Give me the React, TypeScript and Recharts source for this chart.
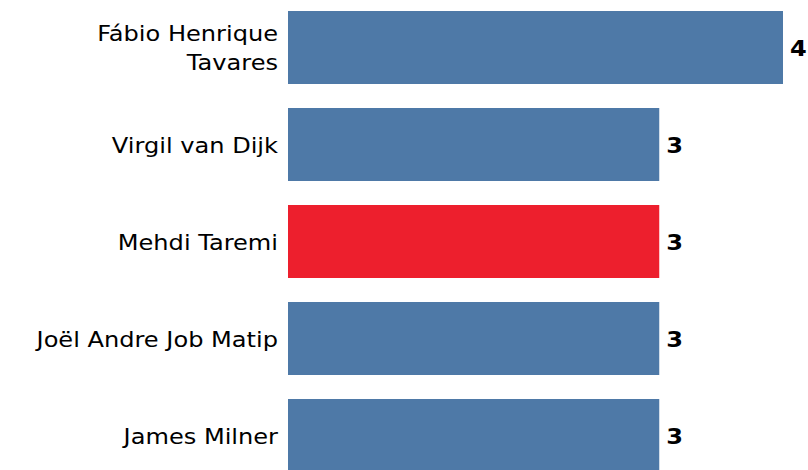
import { Bar, BarChart, Cell, LabelList, XAxis, YAxis } from 'recharts';

const players = ['Fábio Henrique\nTavares', 'Virgil van Dijk', 'Mehdi Taremi', 'Joël Andre Job Matip', 'James Milner'];
const goals = [4, 3, 3, 3, 3];
const highlighted = ['Mehdi Taremi'];

const BLUE = '#4e79a7';
const RED = '#ed1f2d';
const FONT = '"DejaVu Sans", sans-serif';
// the reference text is a bit wider than plain DejaVu at this size
const STRETCH = 1.095;

const chartData = players.map((name, i) => ({ name, goals: goals[i] }));

function PlayerTick(props: any) {
    const { x, y, payload } = props;
    const lines = String(payload.value).split('\n');
    const lineHeight = 30;
    const start = 8 - ((lines.length - 1) * lineHeight) / 2;
    return (
        <g transform={`translate(${x},${y}) scale(${STRETCH},1)`}>
            <text x={0} y={start} textAnchor="end" fill="#000" fontFamily={FONT} fontSize={22}>
                {lines.map((line, i) => (
                    <tspan key={i} x={0} y={start + i * lineHeight}>
                        {line}
                    </tspan>
                ))}
            </text>
        </g>
    );
}

function ValueLabel(props: any) {
    const { x, y, width, height, value } = props;
    return (
        <g transform={`translate(${x + width + 7},${y + height / 2}) scale(${STRETCH},1)`}>
            <text x={0} y={8} fill="#000" fontFamily={FONT} fontSize={22} fontWeight="bold">
                {value}
            </text>
        </g>
    );
}

export default function App() {
    return (
        <div style={{ position: 'fixed', left: 0, top: -1, width: 808, height: 485, background: '#fff' }}>
            <BarChart
                width={808}
                height={485}
                data={chartData}
                layout="vertical"
                margin={{ top: 0, right: 25, bottom: 0, left: 0 }}
            >
                <XAxis type="number" domain={[0, 4]} hide />
                <YAxis
                    type="category"
                    dataKey="name"
                    width={288}
                    axisLine={false}
                    tickLine={false}
                    tickSize={0}
                    tickMargin={10}
                    tick={<PlayerTick />}
                    interval={0}
                />
                <Bar dataKey="goals" barSize={73} isAnimationActive={false}>
                    {chartData.map((d) => (
                        <Cell key={d.name} fill={highlighted.includes(d.name) ? RED : BLUE} />
                    ))}
                    <LabelList dataKey="goals" content={<ValueLabel />} />
                </Bar>
            </BarChart>
        </div>
    );
}
